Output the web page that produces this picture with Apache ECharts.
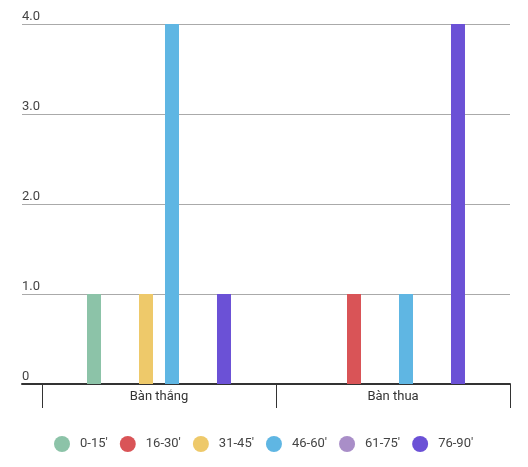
<!DOCTYPE html>
<html>
<head>
<meta charset="utf-8">
<script src="https://cdn.jsdelivr.net/npm/echarts@6/dist/echarts.min.js"></script>
<style>
  html, body { margin: 0; padding: 0; background: #fff; }
  #chart { width: 528px; height: 467px; }
</style>
</head>
<body>
<div id="chart"></div>
<script>
// dữ liệu
const categories = ['Bàn thắng', 'Bàn thua'];
const periods = ["0-15'", "16-30'", "31-45'", "46-60'", "61-75'", "76-90'"];
const goalsFor = [1, 0, 1, 4, 0, 1];
const goalsAgainst = [0, 1, 0, 1, 0, 4];
const colors = ['#8cc3a8', '#d95457', '#eec96a', '#5fb6e3', '#a98ec8', '#6b51d6'];
const yTicks = [0, 1, 2, 3, 4];

const chart = echarts.init(document.getElementById('chart'));

const series = periods.map((name, i) => ({
  name: name,
  type: 'bar',
  xAxisIndex: 1,
  yAxisIndex: 1,
  barWidth: 14,
  barGap: '85.7%',
  barCategoryGap: '38.5%',
  itemStyle: { color: colors[i] },
  data: [goalsFor[i], goalsAgainst[i]]
}));

const option = {
  animation: false,
  textStyle: { fontFamily: 'Roboto' },
  color: colors,
  grid: [
    { left: 22, right: 18, top: 24, bottom: 83 },
    { left: 42, right: 18, top: 24, bottom: 83 }
  ],
  legend: {
    left: 54,
    top: 436,
    padding: 0,
    icon: 'circle',
    itemWidth: 16,
    itemHeight: 16,
    itemGap: 12,
    textStyle: { fontSize: 13, color: '#444', padding: [0, 0, 0, 5], fontFamily: 'Roboto' },
    data: periods
  },
  xAxis: [
    {
      gridIndex: 0,
      type: 'category',
      data: categories,
      axisLine: { show: true, lineStyle: { color: '#333', width: 2 } },
      axisTick: { show: false },
      axisLabel: { show: false }
    },
    {
      gridIndex: 1,
      type: 'category',
      data: categories,
      axisLine: { show: false },
      axisTick: { show: true, length: 24, lineStyle: { color: '#333', width: 1 } },
      axisLabel: { fontSize: 13, color: '#333', margin: 6, fontFamily: 'Roboto' }
    }
  ],
  yAxis: [
    {
      gridIndex: 0,
      type: 'value',
      min: yTicks[0],
      max: yTicks[yTicks.length - 1],
      interval: 1,
      axisLine: { show: false },
      axisTick: { show: false },
      splitLine: { lineStyle: { color: '#aaa', width: 1 } },
      axisLabel: {
        inside: true,
        margin: 0,
        align: 'left',
        verticalAlign: 'bottom',
        padding: [0, 0, 1, 0],
        fontSize: 13,
        color: '#444',
        fontFamily: 'Roboto',
        formatter: v => (v === 0 ? '0' : v.toFixed(1))
      }
    },
    {
      gridIndex: 1,
      type: 'value',
      min: yTicks[0],
      max: yTicks[yTicks.length - 1],
      interval: 1,
      show: false
    }
  ],
  series: series
};

chart.setOption(option);
</script>
</body>
</html>
